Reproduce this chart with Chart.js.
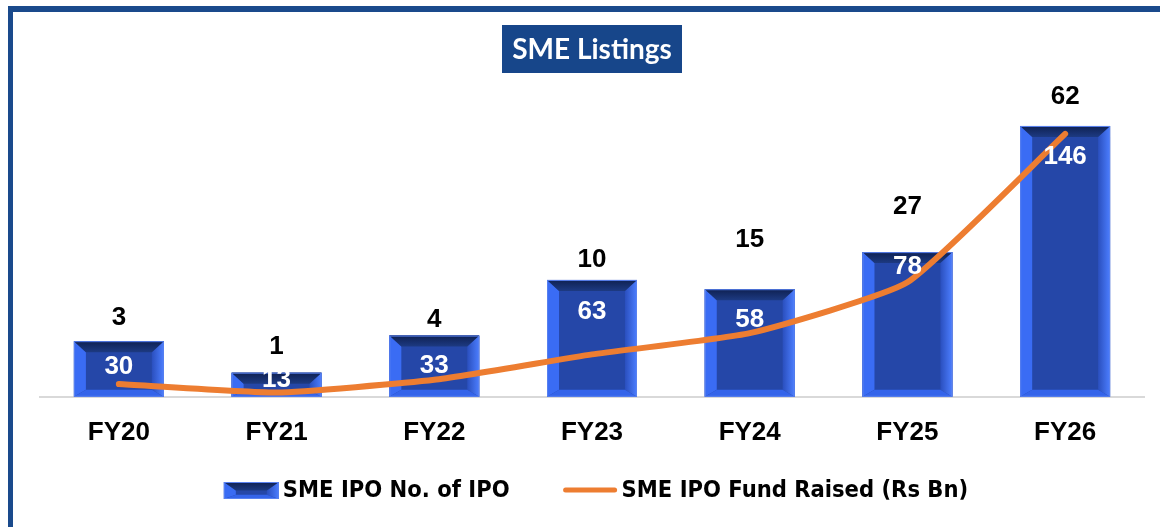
<!DOCTYPE html>
<html>
<head>
<meta charset="utf-8">
<script src="https://cdn.jsdelivr.net/npm/chart.js@4/dist/chart.umd.min.js"></script>
<style>
  html, body { margin: 0; padding: 0; background: #fff; }
  canvas { display: block; }
</style>
</head>
<body>
<canvas id="graficoSme" width="1160" height="527"></canvas>
<script>
// datos del grafico
const categories = ['FY20', 'FY21', 'FY22', 'FY23', 'FY24', 'FY25', 'FY26'];
const ipoCount = [30, 13, 33, 63, 58, 78, 146];
const fundRaised = [3, 1, 4, 10, 15, 27, 62];
const seriesNames = ['SME IPO No. of IPO', 'SME IPO Fund Raised (Rs Bn)'];
const chartTitle = 'SME Listings';

// posicion de etiquetas (px respecto al tope de la barra), movidas a mano en el original
const labelLift = [23, 26, 16, 20, 49, 45, 29];
const innerDrop = [26, 7, 30, 32, 31, 15, 31];

const ORANGE = '#ED7D31';
const NAVY = '#1A4A8C';
const LEGEND_FONT = 'bold 23.5px "Liberation Sans Narrow", "DejaVu Sans Condensed", sans-serif';

// dibuja una barra con bisel (estilo Excel)
function drawBevel(ctx, left, top, right, bottom) {
    const w = right - left, h = bottom - top;
    const b = Math.min(12, w / 4);
    const bt = Math.min(11, h / 2);
    const bb = Math.min(7, h / 4);
    ctx.save();
    // centro
    ctx.fillStyle = '#2547A8';
    ctx.fillRect(left, top, w, h);
    // izquierda
    ctx.fillStyle = '#3A6CF4';
    ctx.beginPath();
    ctx.moveTo(left, top); ctx.lineTo(left + b, top + bt);
    ctx.lineTo(left + b, bottom - bb); ctx.lineTo(left, bottom);
    ctx.closePath(); ctx.fill();
    // derecha
    const gr = ctx.createLinearGradient(right - b, 0, right, 0);
    gr.addColorStop(0, '#2A4FBE');
    gr.addColorStop(1, '#4C7EFF');
    ctx.fillStyle = gr;
    ctx.beginPath();
    ctx.moveTo(right, top); ctx.lineTo(right, bottom);
    ctx.lineTo(right - b, bottom - bb); ctx.lineTo(right - b, top + bt);
    ctx.closePath(); ctx.fill();
    // abajo
    ctx.fillStyle = '#3464EA';
    ctx.beginPath();
    ctx.moveTo(left, bottom); ctx.lineTo(left + b, bottom - bb);
    ctx.lineTo(right - b, bottom - bb); ctx.lineTo(right, bottom);
    ctx.closePath(); ctx.fill();
    // arriba
    const gt = ctx.createLinearGradient(0, top, 0, top + bt);
    gt.addColorStop(0, '#0F2152');
    gt.addColorStop(1, '#1D3A82');
    ctx.fillStyle = gt;
    ctx.beginPath();
    ctx.moveTo(left, top); ctx.lineTo(right, top);
    ctx.lineTo(right - b, top + bt); ctx.lineTo(left + b, top + bt);
    ctx.closePath(); ctx.fill();
    // borde fino
    ctx.strokeStyle = '#5A82F0';
    ctx.lineWidth = 1;
    ctx.strokeRect(left + 0.5, top + 0.5, w - 1, h - 1);
    ctx.restore();
}

const bevelPlugin = {
    id: 'bevelBars',
    afterDatasetDraw(chart, args) {
        if (args.meta.type !== 'bar') return;
        const ctx = chart.ctx;
        args.meta.data.forEach(function (bar) {
            const p = bar.getProps(['x', 'y', 'base', 'width'], true);
            drawBevel(ctx, p.x - p.width / 2, p.y, p.x + p.width / 2, p.base);
        });
    }
};

const extrasPlugin = {
    id: 'extras',
    beforeDraw(chart) {
        const ctx = chart.ctx;
        ctx.save();
        ctx.fillStyle = '#fff';
        ctx.fillRect(0, 0, chart.width, chart.height);
        // marco azul
        ctx.fillStyle = NAVY;
        ctx.fillRect(8, 6, chart.width - 8, 6);
        ctx.fillRect(8, 6, 5, chart.height - 6);
        // titulo
        const cx = (chart.chartArea.left + chart.chartArea.right) / 2;
        ctx.fillStyle = '#17468A';
        ctx.fillRect(cx - 90, 25, 180, 48);
        ctx.fillStyle = '#fff';
        ctx.font = 'bold 28px Lato, "Open Sans", sans-serif';
        ctx.textAlign = 'center';
        ctx.textBaseline = 'middle';
        ctx.fillText(chartTitle, cx, 50);
        ctx.restore();
    },
    afterDraw(chart) {
        const ctx = chart.ctx;
        const bars = chart.getDatasetMeta(1).data;
        ctx.save();
        // etiquetas de valores
        ctx.font = 'bold 26px "Liberation Sans", Arial, sans-serif';
        ctx.textAlign = 'center';
        ctx.textBaseline = 'middle';
        bars.forEach(function (bar, i) {
            const p = bar.getProps(['x', 'y', 'base'], true);
            ctx.fillStyle = '#000';
            ctx.fillText(String(fundRaised[i]), p.x, p.y - labelLift[i]);
            ctx.fillStyle = '#fff';
            ctx.fillText(String(ipoCount[i]), p.x, p.y + innerDrop[i]);
        });

        // leyenda
        ctx.font = LEGEND_FONT;
        ctx.textAlign = 'left';
        const iconW = 55, gapText = 4, gapItem = 53, ly = 490;
        const w1 = ctx.measureText(seriesNames[0]).width;
        const w2 = ctx.measureText(seriesNames[1]).width;
        const total = iconW * 2 + gapText * 2 + w1 + w2 + gapItem;
        const cx = (chart.chartArea.left + chart.chartArea.right) / 2 + 4;
        let x = cx - total / 2;
        drawBevel(ctx, x, ly - 8, x + iconW, ly + 9);
        x += iconW + gapText;
        ctx.fillStyle = '#000';
        ctx.fillText(seriesNames[0], x, ly + 1);
        x += w1 + gapItem;
        ctx.strokeStyle = ORANGE;
        ctx.lineWidth = 5;
        ctx.lineCap = 'round';
        ctx.beginPath();
        ctx.moveTo(x + 3, ly); ctx.lineTo(x + iconW - 3, ly);
        ctx.stroke();
        x += iconW + gapText;
        ctx.fillText(seriesNames[1], x, ly + 1);
        ctx.restore();
    }
};

new Chart(document.getElementById('graficoSme'), {
    data: {
        labels: categories,
        datasets: [
            {
                type: 'line',
                label: seriesNames[1],
                data: fundRaised,
                yAxisID: 'y1',
                borderColor: ORANGE,
                borderWidth: 6,
                borderCapStyle: 'round',
                borderJoinStyle: 'round',
                pointRadius: 0,
                tension: 0.15,
                order: 0
            },
            {
                type: 'bar',
                label: seriesNames[0],
                data: ipoCount,
                yAxisID: 'y',
                backgroundColor: '#2547A8',
                barPercentage: 0.57,
                categoryPercentage: 1,
                order: 1
            }
        ]
    },
    options: {
        responsive: false,
        devicePixelRatio: 1,
        animation: false,
        layout: { padding: { left: 40, right: 16, top: 100, bottom: 67 } },
        scales: {
            x: {
                grid: { display: false },
                border: { color: '#D9D9D9', width: 2 },
                ticks: {
                    color: '#000',
                    padding: 12,
                    font: { family: '"Liberation Sans", Arial, sans-serif', size: 26, weight: 'bold' }
                }
            },
            y: { display: false, min: 0, max: 160 },
            y1: { display: false, min: 0, max: 70 }
        },
        plugins: {
            tooltip: { enabled: false },
            legend: { display: false }
        }
    },
    plugins: [bevelPlugin, extrasPlugin]
});
</script>
</body>
</html>
